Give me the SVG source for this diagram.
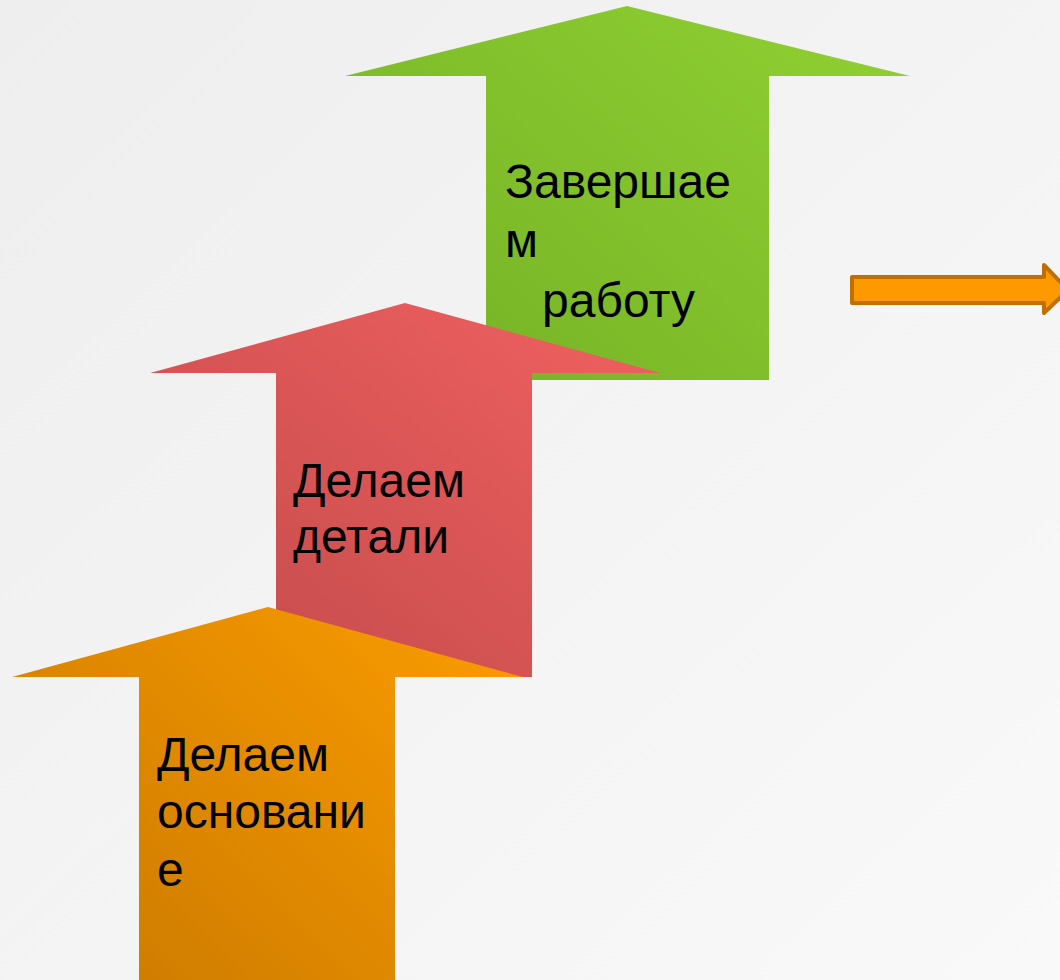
<svg xmlns="http://www.w3.org/2000/svg" width="1060" height="980" viewBox="0 0 1060 980">
<defs>
<linearGradient id="bg" x1="0" y1="0" x2="1" y2="1">
<stop offset="0" stop-color="#eeeeee"/>
<stop offset="1" stop-color="#f9f9f9"/>
</linearGradient>
<linearGradient id="gGreen" gradientUnits="userSpaceOnUse" x1="486" y1="380" x2="800" y2="20">
<stop offset="0" stop-color="#78b527"/>
<stop offset="1" stop-color="#8dcd31"/>
</linearGradient>
<linearGradient id="gRed" gradientUnits="userSpaceOnUse" x1="276" y1="677" x2="560" y2="320">
<stop offset="0" stop-color="#c84d4d"/>
<stop offset="1" stop-color="#eb5e5e"/>
</linearGradient>
<linearGradient id="gOrange" gradientUnits="userSpaceOnUse" x1="139" y1="980" x2="500" y2="620">
<stop offset="0" stop-color="#d07d00"/>
<stop offset="1" stop-color="#fa9c00"/>
</linearGradient>
<style>
.lbl{font-family:"Liberation Sans",Arial,sans-serif;font-size:48px;fill:#000}
</style>
</defs>
<rect width="1060" height="980" fill="url(#bg)"/>
<g id="step3">
<polygon points="627,6 910,76 769,76 769,380 486,380 486,76 345,76" fill="url(#gGreen)"/>
<text class="lbl"><tspan x="505" y="198">Завершае</tspan><tspan x="505" y="257">м</tspan><tspan x="542" y="317">работу</tspan></text>
</g>
<g id="step2">
<polygon points="405,303 660,373 532,373 532,677 276,677 276,373 150,373" fill="url(#gRed)"/>
<text class="lbl"><tspan x="293" y="497">Делаем</tspan><tspan x="293" y="553">детали</tspan></text>
</g>
<g id="step1">
<polygon points="268,607 523,677 395,677 395,980 139,980 139,677 12,677" fill="url(#gOrange)"/>
<text class="lbl"><tspan x="157" y="771">Делаем</tspan><tspan x="157" y="828">основани</tspan><tspan x="157" y="886">е</tspan></text>
</g>
<g id="connectors">
<polygon points="852,277 1044,277 1044,265 1068,290 1044,313 1044,303 852,303" fill="#ff9900" stroke="#c07000" stroke-width="4" stroke-linejoin="round"/>
</g>
</svg>
